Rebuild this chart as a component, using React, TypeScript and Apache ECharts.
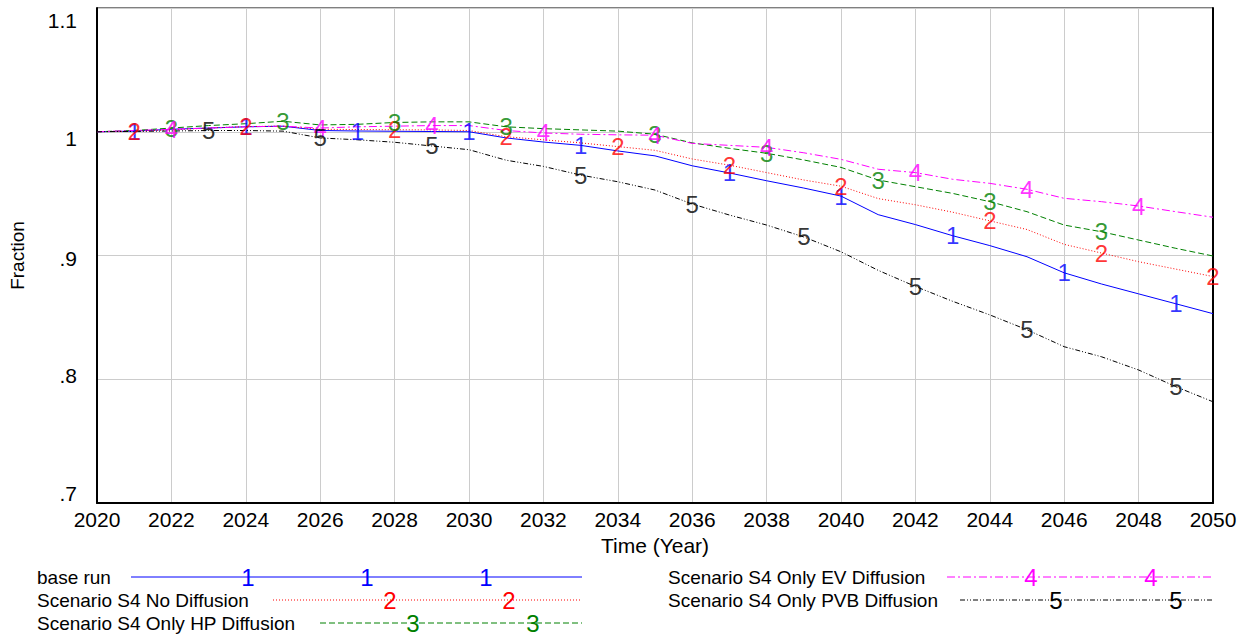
import React, { useEffect, useRef } from "react";
import * as echarts from "echarts";

const years = [
  2020, 2021, 2022, 2023, 2024, 2025, 2026, 2027, 2028, 2029, 2030,
  2031, 2032, 2033, 2034, 2035, 2036, 2037, 2038, 2039, 2040,
  2041, 2042, 2043, 2044, 2045, 2046, 2047, 2048, 2049, 2050,
];

const baseRun = [
  1.0, 1.0005, 1.002, 1.003, 1.004, 1.0045, 1.001, 1.0006, 1.0004, 1.0002, 1.0,
  0.995, 0.9917, 0.989, 0.9845, 0.9805, 0.9725, 0.9667, 0.9604, 0.9545, 0.948,
  0.933, 0.925, 0.916, 0.908, 0.899, 0.886, 0.877, 0.869, 0.861, 0.853,
];
const noDiffusion = [
  1.0, 1.0005, 1.0015, 1.003, 1.0042, 1.0045, 1.002, 1.0018, 1.0016, 1.0015, 1.001,
  0.996, 0.9935, 0.991, 0.988, 0.985, 0.978, 0.973, 0.967, 0.961, 0.956,
  0.946, 0.941, 0.935, 0.928, 0.921, 0.909, 0.902, 0.895, 0.889, 0.883,
];
const onlyHP = [
  1.0, 1.001, 1.003, 1.005, 1.0065, 1.0085, 1.0055, 1.006, 1.0075, 1.008, 1.008,
  1.004, 1.0025, 1.0015, 1.0005, 0.998, 0.991, 0.9866, 0.9826, 0.9772, 0.9712,
  0.961, 0.9556, 0.9502, 0.9435, 0.9354, 0.9246, 0.9192, 0.9125, 0.9058, 0.8996,
];
const onlyEV = [
  1.0, 1.001, 1.002, 1.003, 1.004, 1.0045, 1.003, 1.004, 1.0045, 1.005, 1.005,
  1.001, 0.999, 0.998, 0.9975, 0.9972, 0.9906, 0.989, 0.9874, 0.983, 0.9777,
  0.9697, 0.967, 0.9616, 0.9583, 0.9535, 0.9462, 0.9435, 0.94, 0.9354, 0.9309,
];
const onlyPVB = [
  1.0, 1.0003, 1.0006, 1.001, 1.001, 1.0005, 0.995, 0.9935, 0.9915, 0.9885, 0.9855,
  0.977, 0.972, 0.965, 0.9596, 0.9529, 0.9416, 0.9327, 0.9246, 0.915, 0.903,
  0.888, 0.875, 0.863, 0.852, 0.84, 0.8263, 0.8182, 0.8075, 0.794, 0.7818,
];

const seriesNames = [
  "base run",
  "Scenario S4 No Diffusion",
  "Scenario S4 Only HP Diffusion",
  "Scenario S4 Only EV Diffusion",
  "Scenario S4 Only PVB Diffusion",
];
const seriesDigits = ["1", "2", "3", "4", "5"];
const seriesColors = ["#0000ff", "#ff0000", "#008000", "#ff00ff", "#000000"];
const seriesDash: (number[] | "solid")[] = [
  "solid",
  [1, 2],
  [6, 3],
  [8, 3, 2, 3],
  [5, 2, 1, 2, 1, 2],
];
const markerYears = [
  [2021, 2024, 2027, 2030, 2033, 2037, 2040, 2043, 2046, 2049],
  [2021, 2024, 2028, 2031, 2034, 2037, 2040, 2044, 2047, 2050],
  [2022, 2025, 2028, 2031, 2035, 2038, 2041, 2044, 2047],
  [2022, 2026, 2029, 2032, 2035, 2038, 2042, 2045, 2048],
  [2023, 2026, 2029, 2033, 2036, 2039, 2042, 2045, 2049],
];
const allValues = [baseRun, noDiffusion, onlyHP, onlyEV, onlyPVB];

const yTickText: Record<string, string> = {
  "1.1": "1.1",
  "1.0": "1",
  "0.9": ".9",
  "0.8": ".8",
  "0.7": ".7",
};
const yTickStyle: Record<string, string> = {
  "1.1": "t",
  "1.0": "one",
  "0.9": "nine",
  "0.8": "eight",
  "0.7": "b",
};

// legend layout (positions only)
const legendRows = [
  { text: 37, y: 577, x1: 131, x2: 582, digits: [248, 367, 486] },
  { text: 37, y: 600, x1: 273, x2: 582, digits: [390, 509] },
  { text: 37, y: 623, x1: 320, x2: 582, digits: [413, 533] },
  { text: 668, y: 577, x1: 947, x2: 1213, digits: [1031, 1151] },
  { text: 668, y: 600, x1: 960, x2: 1213, digits: [1056, 1176] },
];

const FONT = 'Arial, "Liberation Sans", sans-serif';

export default function App() {
  const ref = useRef<HTMLDivElement>(null);
  useEffect(() => {
    if (!ref.current) return;
    const chart = echarts.init(ref.current, null, { renderer: "svg" });

    const series: any[] = [];
    allValues.forEach((vals, i) => {
      series.push({
        type: "line",
        name: seriesNames[i],
        data: years.map((y, k) => [y, vals[k]]),
        symbol: "none",
        lineStyle: {
          color: seriesColors[i],
          width: 1,
          type: seriesDash[i],
        },
        z: 2 + i,
      });
    });
    allValues.forEach((vals, i) => {
      series.push({
        type: "scatter",
        name: seriesNames[i] + " marks",
        data: markerYears[i].map((y) => [y, vals[years.indexOf(y)]]),
        symbol: "circle",
        symbolSize: 1,
        itemStyle: { color: "rgba(0,0,0,0)" },
        label: {
          show: true,
          position: "inside",
          formatter: seriesDigits[i],
          color: seriesColors[i],
          fontSize: 24,
          fontFamily: FONT,
        },
        silent: true,
        z: 10 + i,
      });
    });

    const graphic: any[] = [];
    legendRows.forEach((r, i) => {
      graphic.push({
        type: "text",
        x: r.text,
        y: r.y,
        style: {
          text: seriesNames[i],
          fontSize: 19,
          fontFamily: FONT,
          fill: "#000",
          verticalAlign: "middle",
          align: "left",
        },
      });
      graphic.push({
        type: "line",
        shape: { x1: r.x1, y1: r.y, x2: r.x2, y2: r.y },
        style: {
          stroke: seriesColors[i],
          lineWidth: 1,
          lineDash: seriesDash[i] === "solid" ? null : seriesDash[i],
        },
      });
      r.digits.forEach((dx) => {
        graphic.push({
          type: "text",
          x: dx,
          y: r.y,
          style: {
            text: seriesDigits[i],
            fontSize: 24,
            fontFamily: FONT,
            fill: seriesColors[i],
            verticalAlign: "middle",
            align: "center",
          },
        });
      });
    });

    chart.setOption({
      animation: false,
      backgroundColor: "#ffffff",
      grid: {
        left: 97,
        top: 8,
        right: 33,
        bottom: 132,
        show: true,
        borderColor: "#000",
        borderWidth: 1,
      },
      xAxis: {
        type: "value",
        min: 2020,
        max: 2050,
        interval: 2,
        name: "Time (Year)",
        nameLocation: "middle",
        nameGap: 32,
        nameTextStyle: { fontSize: 21, fontFamily: FONT, color: "#000" },
        axisLine: { show: true, lineStyle: { color: "#000", width: 2 } },
        axisTick: { show: false },
        axisLabel: {
          fontSize: 21,
          fontFamily: FONT,
          color: "#000",
          margin: 6,
          formatter: (v: number) => String(v),
        },
        splitLine: { show: true, lineStyle: { color: "#cccccc", width: 1 } },
      },
      yAxis: [
        {
          type: "value",
          min: 0.7,
          max: 1.1,
          interval: 0.1,
          name: "Fraction",
          nameLocation: "middle",
          nameRotate: 90,
          nameGap: 70,
          nameTextStyle: { fontSize: 19, fontFamily: FONT, color: "#000" },
          axisLine: { show: true, lineStyle: { color: "#000", width: 2 } },
          axisTick: { show: false },
          axisLabel: {
            fontSize: 21,
            fontFamily: FONT,
            color: "#000",
            margin: 20,
            formatter: (v: number) => {
              const k = v.toFixed(1);
              return "{" + (yTickStyle[k] || "one") + "|" + (yTickText[k] || k) + "}";
            },
            rich: {
              t: { fontSize: 21, fontFamily: FONT, color: "#000", padding: [24, 0, 0, 0] },
              one: { fontSize: 21, fontFamily: FONT, color: "#000", padding: [13, 0, 0, 0] },
              nine: { fontSize: 21, fontFamily: FONT, color: "#000", padding: [5, 0, 0, 0] },
              eight: { fontSize: 21, fontFamily: FONT, color: "#000", padding: [0, 0, 7, 0] },
              b: { fontSize: 21, fontFamily: FONT, color: "#000", padding: [0, 0, 20, 0] },
            },
          },
          splitLine: { show: true, lineStyle: { color: "#cccccc", width: 1 } },
        },
        {
          type: "value",
          min: 0.7,
          max: 1.1,
          interval: 0.1,
          position: "right",
          axisLine: { show: true, lineStyle: { color: "#000", width: 2 } },
          axisTick: { show: false },
          axisLabel: { show: false },
          splitLine: { show: false },
        },
      ],
      series,
      graphic,
    });

    return () => chart.dispose();
  }, []);

  return (
    <div
      ref={ref}
      style={{ position: "fixed", left: 0, top: 0, width: 1246, height: 635, background: "#fff" }}
    />
  );
}
